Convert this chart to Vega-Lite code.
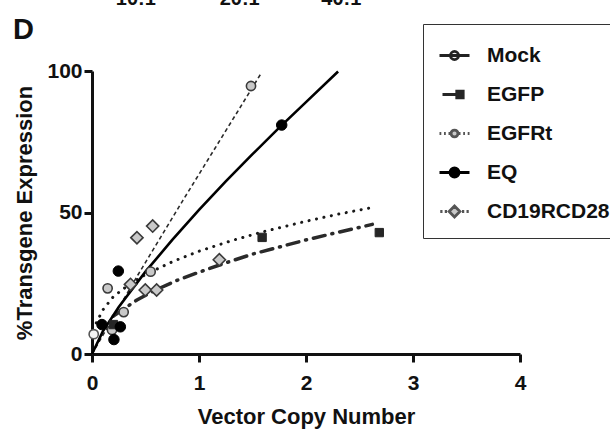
{
  "$schema": "https://vega.github.io/schema/vega-lite/v6.json",
  "width": 428,
  "height": 283,
  "autosize": {"type": "none"},
  "padding": {"left": 92, "top": 71, "right": 90, "bottom": 77},
  "background": "white",
  "title": {"text": "D", "anchor": "start", "frame": "group", "dx": -79, "offset": -79, "baseline": "alphabetic", "fontSize": 29, "fontWeight": "bold", "font": "Liberation Sans", "color": "#111"},
  "config": {
    "view": {"stroke": null},
    "font": "Liberation Sans",
    "axis": {
      "grid": false,
      "domainColor": "#111",
      "domainWidth": 3,
      "tickColor": "#111",
      "tickWidth": 3,
      "tickSize": 8,
      "labelFont": "Liberation Sans",
      "labelFontSize": 21,
      "labelFontWeight": "bold",
      "labelColor": "#111",
      "titleFont": "Liberation Sans",
      "titleFontSize": 22,
      "titleFontWeight": "bold",
      "titleColor": "#111"
    }
  },
  "datasets": {
    "pts": [
      {"series": "Mock", "vcn": 0.016, "pct": 7.0},
      {"series": "EGFRt", "vcn": 1.486, "pct": 94.7},
      {"series": "EGFRt", "vcn": 0.146, "pct": 23.2},
      {"series": "EGFRt", "vcn": 0.548, "pct": 29.1},
      {"series": "EGFRt", "vcn": 0.296, "pct": 14.8},
      {"series": "EGFRt", "vcn": 0.187, "pct": 8.5},
      {"series": "CD19RCD28", "vcn": 0.42, "pct": 41.1},
      {"series": "CD19RCD28", "vcn": 0.567, "pct": 45.2},
      {"series": "CD19RCD28", "vcn": 0.36, "pct": 24.6},
      {"series": "CD19RCD28", "vcn": 0.498, "pct": 22.6},
      {"series": "CD19RCD28", "vcn": 0.604, "pct": 22.6},
      {"series": "CD19RCD28", "vcn": 1.19, "pct": 33.3},
      {"series": "EGFP", "vcn": 1.59, "pct": 41.2},
      {"series": "EGFP", "vcn": 2.685, "pct": 42.9},
      {"series": "EGFP", "vcn": 0.2, "pct": 10.4},
      {"series": "EQ", "vcn": 1.773, "pct": 80.9},
      {"series": "EQ", "vcn": 0.246, "pct": 29.3},
      {"series": "EQ", "vcn": 0.093, "pct": 10.4},
      {"series": "EQ", "vcn": 0.265, "pct": 9.6},
      {"series": "EQ", "vcn": 0.205, "pct": 5.1}
    ],
    "fits": [
      {"fit": "solid", "vcn": 0.0, "pct": 0.0},
      {"fit": "solid", "vcn": 0.1, "pct": 7.9},
      {"fit": "solid", "vcn": 0.25, "pct": 16.6},
      {"fit": "solid", "vcn": 0.5, "pct": 29.1},
      {"fit": "solid", "vcn": 0.75, "pct": 40.3},
      {"fit": "solid", "vcn": 1.0, "pct": 50.9},
      {"fit": "solid", "vcn": 1.25, "pct": 61.0},
      {"fit": "solid", "vcn": 1.5, "pct": 70.6},
      {"fit": "solid", "vcn": 1.75, "pct": 80.0},
      {"fit": "solid", "vcn": 2.0, "pct": 89.0},
      {"fit": "solid", "vcn": 2.3, "pct": 99.8},
      {"fit": "dashed", "vcn": 0.0, "pct": 0.0},
      {"fit": "dashed", "vcn": 0.43, "pct": 28.0},
      {"fit": "dashed", "vcn": 0.85, "pct": 54.3},
      {"fit": "dashed", "vcn": 1.586, "pct": 99.5},
      {"fit": "dotted", "vcn": 0.04, "pct": 11.0},
      {"fit": "dotted", "vcn": 0.1, "pct": 15.5},
      {"fit": "dotted", "vcn": 0.2, "pct": 20.3},
      {"fit": "dotted", "vcn": 0.35, "pct": 24.6},
      {"fit": "dotted", "vcn": 0.5, "pct": 28.1},
      {"fit": "dotted", "vcn": 0.75, "pct": 32.6},
      {"fit": "dotted", "vcn": 1.0, "pct": 36.3},
      {"fit": "dotted", "vcn": 1.3, "pct": 40.0},
      {"fit": "dotted", "vcn": 1.6, "pct": 43.2},
      {"fit": "dotted", "vcn": 2.0, "pct": 46.9},
      {"fit": "dotted", "vcn": 2.3, "pct": 49.4},
      {"fit": "dotted", "vcn": 2.65, "pct": 52.0},
      {"fit": "dashdot", "vcn": 0.2, "pct": 13.4},
      {"fit": "dashdot", "vcn": 0.3, "pct": 16.0},
      {"fit": "dashdot", "vcn": 0.42, "pct": 19.1},
      {"fit": "dashdot", "vcn": 0.6, "pct": 22.7},
      {"fit": "dashdot", "vcn": 0.8, "pct": 26.1},
      {"fit": "dashdot", "vcn": 1.0, "pct": 28.9},
      {"fit": "dashdot", "vcn": 1.25, "pct": 32.2},
      {"fit": "dashdot", "vcn": 1.5, "pct": 35.3},
      {"fit": "dashdot", "vcn": 1.75, "pct": 37.8},
      {"fit": "dashdot", "vcn": 2.0, "pct": 40.3},
      {"fit": "dashdot", "vcn": 2.3, "pct": 43.0},
      {"fit": "dashdot", "vcn": 2.62, "pct": 45.8}
    ],
    "toplabels": [
      {"label": "10:1", "vcn": 0.41, "pct": 123.3},
      {"label": "20:1", "vcn": 1.38, "pct": 123.3},
      {"label": "40:1", "vcn": 2.33, "pct": 123.3}
    ],
    "legend": [
      {"series": "Mock"}, {"series": "EGFP"}, {"series": "EGFRt"}, {"series": "EQ"}, {"series": "CD19RCD28"}
    ]
  },
  "encoding": {
    "x": {"field": "vcn", "type": "quantitative", "scale": {"domain": [0, 4], "nice": false, "zero": true},
      "axis": {"values": [0, 1, 2, 3, 4], "title": "Vector Copy Number", "labelPadding": 10, "titlePadding": 13, "labelFlush": false}},
    "y": {"field": "pct", "type": "quantitative", "scale": {"domain": [0, 100], "nice": false},
      "axis": {"values": [0, 50, 100], "title": "%Transgene Expression", "labelPadding": 2, "titlePadding": 10}}
  },
  "layer": [
    {
      "data": {"name": "fits"},
      "transform": [{"filter": "datum.fit === 'dashdot'"}],
      "mark": {"type": "line", "stroke": "#2a2a2a", "strokeWidth": 3.5, "strokeDash": [12, 7, 1, 7], "strokeCap": "round"}
    },
    {
      "data": {"name": "fits"},
      "transform": [{"filter": "datum.fit === 'dotted'"}],
      "mark": {"type": "line", "stroke": "#1a1a1a", "strokeWidth": 3, "strokeDash": [0.1, 7.5], "strokeCap": "round"}
    },
    {
      "data": {"name": "fits"},
      "transform": [{"filter": "datum.fit === 'dashed'"}],
      "mark": {"type": "line", "stroke": "#2a2a2a", "strokeWidth": 1.6, "strokeDash": [4, 3]}
    },
    {
      "data": {"name": "fits"},
      "transform": [{"filter": "datum.fit === 'solid'"}],
      "mark": {"type": "line", "stroke": "#000", "strokeWidth": 2.6}
    },
    {
      "data": {"name": "pts"},
      "transform": [{"filter": "datum.series === 'CD19RCD28'"}],
      "mark": {"type": "point", "shape": "diamond", "size": 150, "filled": true, "fill": "#c9c9c9", "stroke": "#3a3a3a", "strokeWidth": 1.6, "opacity": 1}
    },
    {
      "data": {"name": "pts"},
      "transform": [{"filter": "datum.series === 'EGFRt'"}],
      "mark": {"type": "point", "shape": "circle", "size": 85, "filled": true, "fill": "#c9c9c9", "stroke": "#3a3a3a", "strokeWidth": 1.6, "opacity": 1}
    },
    {
      "data": {"name": "pts"},
      "transform": [{"filter": "datum.series === 'Mock'"}],
      "mark": {"type": "point", "shape": "circle", "size": 85, "filled": true, "fill": "#f4f4f4", "stroke": "#555", "strokeWidth": 1.6, "opacity": 1}
    },
    {
      "data": {"name": "pts"},
      "transform": [{"filter": "datum.series === 'EGFP'"}],
      "mark": {"type": "point", "shape": "square", "size": 70, "filled": true, "fill": "#262626", "stroke": "#262626", "strokeWidth": 1, "opacity": 1}
    },
    {
      "data": {"name": "pts"},
      "transform": [{"filter": "datum.series === 'EQ'"}],
      "mark": {"type": "point", "shape": "circle", "size": 110, "filled": true, "fill": "#000", "stroke": "#000", "strokeWidth": 1, "opacity": 1}
    },
    {
      "data": {"name": "toplabels"},
      "mark": {"type": "text", "fontSize": 20, "fontWeight": "bold", "font": "Liberation Sans", "baseline": "alphabetic", "align": "center", "color": "#111"},
      "encoding": {"text": {"field": "label"}}
    },
    {
      "data": {"name": "legend"},
      "transform": [{"filter": "false"}],
      "mark": {"type": "point", "filled": true, "opacity": 1},
      "encoding": {
        "x": {"value": 0},
        "y": {"value": 0},
        "shape": {"field": "series", "type": "nominal",
          "scale": {"domain": ["Mock", "EGFP", "EGFRt", "EQ", "CD19RCD28"],
            "range": [
              "M-1,0H1M0.27,0A0.27,0.27 0 1,1 -0.27,0A0.27,0.27 0 1,1 0.27,0Z",
              "M-0.8,0H0.15M0.15,-0.22H0.58V0.22H0.15Z",
              "M-1,0H-0.88M-0.7,0H-0.58M-0.4,0H-0.28M0.28,0H0.4M0.58,0H0.7M0.88,0H1M0.23,0A0.23,0.23 0 1,1 -0.23,0A0.23,0.23 0 1,1 0.23,0Z",
              "M-1,0H1M0.3,0A0.3,0.3 0 1,1 -0.3,0A0.3,0.3 0 1,1 0.3,0Z",
              "M-0.95,0H-0.8M-0.65,0H-0.5M0.5,0H0.65M0.8,0H0.95M0,-0.36L0.36,0L0,0.36L-0.36,0Z"
            ]},
          "legend": {"title": null, "orient": "none", "legendX": 331, "legendY": -47, "direction": "vertical",
            "symbolSize": 900, "symbolStrokeWidth": 2.8, "labelFont": "Liberation Sans", "labelFontSize": 21, "labelFontWeight": "bold",
            "labelColor": "#111", "labelOffset": 16, "rowPadding": 12, "padding": 15, "strokeColor": "#333", "labelLimit": 300}},
        "fill": {"field": "series", "type": "nominal",
          "scale": {"domain": ["Mock", "EGFP", "EGFRt", "EQ", "CD19RCD28"], "range": ["#f4f4f4", "#262626", "#c9c9c9", "#000000", "#c9c9c9"]}},
        "stroke": {"field": "series", "type": "nominal",
          "scale": {"domain": ["Mock", "EGFP", "EGFRt", "EQ", "CD19RCD28"], "range": ["#222222", "#262626", "#555555", "#000000", "#555555"]}}
      }
    }
  ]
}
